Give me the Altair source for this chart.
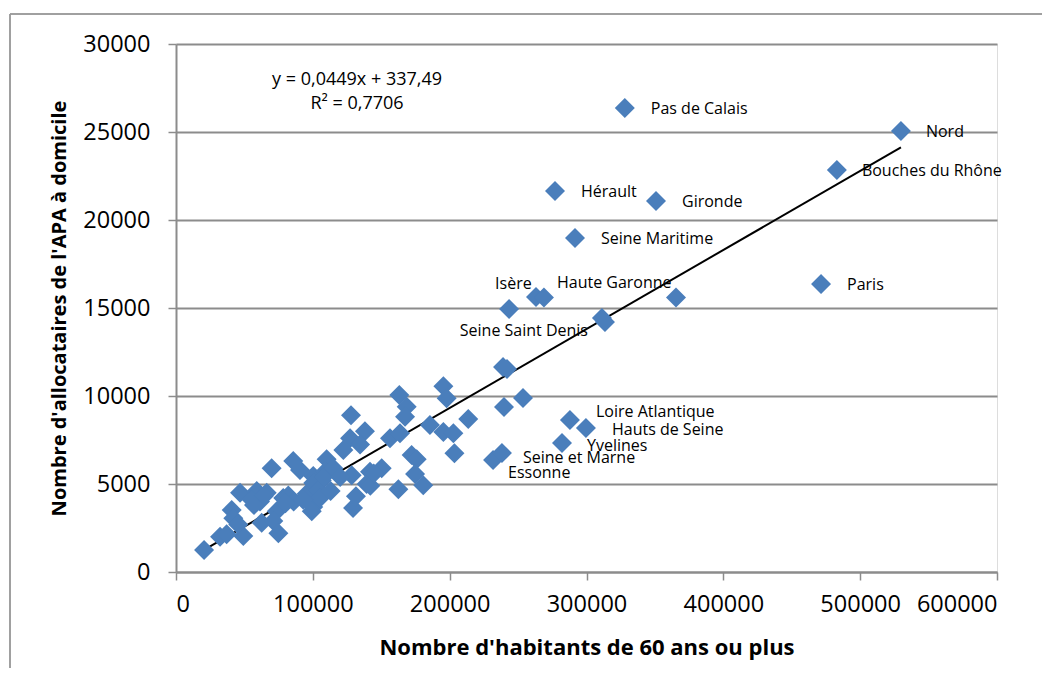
import altair as alt
import pandas as pd

# ---- data ----
habitants_60 = [
    328000, 529800, 483000, 277000, 350800, 291600, 471400, 243400, 263100, 268900,
    365400, 311300, 313500, 239000, 241900, 239700, 253600, 287900, 299600, 282100,
    231700, 238200,
    195400, 197800, 163200, 168600, 167400, 127900, 213600, 185600, 138100, 127200,
    134500, 122300, 156400, 163700, 195400, 202700, 203500, 172200, 175900, 174700,
    180700, 162500, 150300, 141800, 139300, 128400, 110100, 85700, 90600, 100300,
    108900, 106500, 129400, 131500,
    20500, 32200, 37000, 40700, 41900, 46800, 49200, 45500, 59000, 61400,
    55300, 62600, 66300, 69900, 73600, 71100, 74800, 78400, 82100, 95500,
    100300, 100300, 104000, 107600, 115000, 105200, 99200, 142000, 144500, 64000,
    57000, 86000, 93000, 113000, 120000, 80000,
]
allocataires_apa = [
    26360, 25050, 22840, 21650, 21080, 18980, 16360, 14940, 15630, 15600,
    15600, 14430, 14200, 11650, 11530, 9380, 9890, 8640, 8180, 7330,
    6360, 6760,
    10550, 9870, 10050, 9390, 8820, 8900, 8700, 8350, 8000, 7600,
    7250, 6930, 7600, 7880, 7950, 7880, 6750, 6650, 6400, 5570,
    4930, 4700, 5900, 5700, 5000, 5500, 6400, 6300, 5800, 5450,
    5700, 5200, 3640, 4300,
    1250, 2000, 2150, 3520, 3050, 4500, 2050, 2700, 4600, 4000,
    4100, 2800, 4500, 5900, 3450, 2900, 2200, 4200, 4350, 4450,
    3700, 5050, 4650, 5400, 5900, 4200, 3450, 4900, 5600, 4300,
    3800, 4000, 4100, 4600, 5400, 3900,
]
noms = [
    "Pas de Calais", "Nord", "Bouches du Rhône", "Hérault", "Gironde",
    "Seine Maritime", "Paris", "Isère", "", "Haute Garonne",
    "", "", "Seine Saint Denis", "", "", "", "", "Loire Atlantique",
    "Hauts de Seine", "Yvelines", "Essonne", "Seine et Marne",
] + [""] * (len(habitants_60) - 22)

x_ticks = [0, 100000, 200000, 300000, 400000, 500000, 600000]
y_ticks = [0, 5000, 10000, 15000, 20000, 25000, 30000]

pente = 0.0449
ordonnee = 337.49
equation = "y = 0,0449x + 337,49"
r2_text = "R² = 0,7706"

# label offsets (pixels): name -> (dx, dy, align)
label_offsets = {
    "Pas de Calais": (26, 1, "left"),
    "Nord": (25, 1, "left"),
    "Bouches du Rhône": (25, 1, "left"),
    "Hérault": (26, 1, "left"),
    "Gironde": (26, 1, "left"),
    "Seine Maritime": (26, 1, "left"),
    "Paris": (26, 1, "left"),
    "Isère": (-14, -25, "left"),
    "Haute Garonne": (13, -14, "left"),
    "Seine Saint Denis": (-17, 9, "right"),
    "Loire Atlantique": (26, -8, "left"),
    "Hauts de Seine": (26, 2, "left"),
    "Yvelines": (25, 3, "left"),
    "Seine et Marne": (21, 5, "left"),
    "Essonne": (15, 13, "left"),
}

df = pd.DataFrame({"x": habitants_60, "y": allocataires_apa, "nom": noms})
xmin, xmax = min(habitants_60), max(habitants_60)
trend = pd.DataFrame({"x": [xmin, xmax], "y": [pente * xmin + ordonnee, pente * xmax + ordonnee]})
eq_df = pd.DataFrame({"x": [132300, 132300], "y": [27950, 26600], "t": [equation, r2_text]})

FONT = "Open Sans"
GRID = "#8c8c8c"
BLUE = "#4A7EBB"

W, H = 821, 528

xscale = alt.Scale(domain=[0, 600000], nice=False)
yscale = alt.Scale(domain=[0, 30000], nice=False)

x_enc = alt.X("x:Q", scale=xscale, axis=alt.Axis(
    values=x_ticks, format="d", grid=False, domainColor=GRID, domainWidth=2,
    tickColor=GRID, tickWidth=1.5, tickSize=8, labelFont=FONT, labelFontSize=23.5,
    labelColor="#000000", labelPadding=12,
    title="Nombre d'habitants de 60 ans ou plus", titleFont=FONT, titleFontSize=22,
    titleFontWeight="bold", titleColor="#000000", titleX=W / 2, titleY=75,
    titleBaseline="middle", titleAlign="center"))
y_enc = alt.Y("y:Q", scale=yscale, axis=alt.Axis(
    values=y_ticks, format="d", grid=True, gridColor=GRID, gridWidth=2,
    domainColor=GRID, domainWidth=2, tickColor=GRID, tickWidth=1.5, tickSize=8,
    labelFont=FONT, labelFontSize=23.5, labelColor="#000000", labelPadding=18,
    title="Nombre d'allocataires de l'APA à domicile", titleFont=FONT,
    titleFontSize=20, titleFontWeight="bold", titleColor="#000000",
    titleX=-117, titleY=H / 2, titleAngle=-90, titleBaseline="middle",
    titleAlign="center"))

points = alt.Chart(df).mark_point(
    shape="diamond", filled=True, size=400, color=BLUE, opacity=1
).encode(x=x_enc, y=y_enc)

line = alt.Chart(trend).mark_line(color="#000000", strokeWidth=2).encode(
    x=alt.X("x:Q", scale=xscale), y=alt.Y("y:Q", scale=yscale))

eq = alt.Chart(eq_df).mark_text(font=FONT, fontSize=18, color="#000000", align="center",
                                baseline="middle").encode(
    x=alt.X("x:Q", scale=xscale), y=alt.Y("y:Q", scale=yscale), text="t:N")

label_layers = []
for name, (dx, dy, align) in label_offsets.items():
    label_layers.append(
        alt.Chart(df[df["nom"] == name]).mark_text(
            font=FONT, fontSize=16, color="#000000", align=align, baseline="middle",
            dx=dx, dy=dy
        ).encode(x=alt.X("x:Q", scale=xscale), y=alt.Y("y:Q", scale=yscale), text="nom:N")
    )

# outer chart frame (decoration)
frame_left = alt.Chart(trend).mark_rule(color="#9a9a9a", strokeWidth=1.5).encode(
    x=alt.value(-166), y=alt.value(-30), y2=alt.value(H + 100))
frame_top = alt.Chart(trend).mark_rule(color="#9a9a9a", strokeWidth=1.5).encode(
    x=alt.value(-166), x2=alt.value(W + 50), y=alt.value(-30))

chart = alt.layer(
    frame_left, frame_top, line, points, eq, *label_layers
).properties(
    width=W, height=H,
    autosize=alt.AutoSizeParams(type="none"),
    padding={"left": 168, "top": 36, "right": 45, "bottom": 96},
).configure_view(stroke=None).configure(background="#ffffff")

chart.save("out.html", embed_options={"renderer": "svg", "actions": False})
